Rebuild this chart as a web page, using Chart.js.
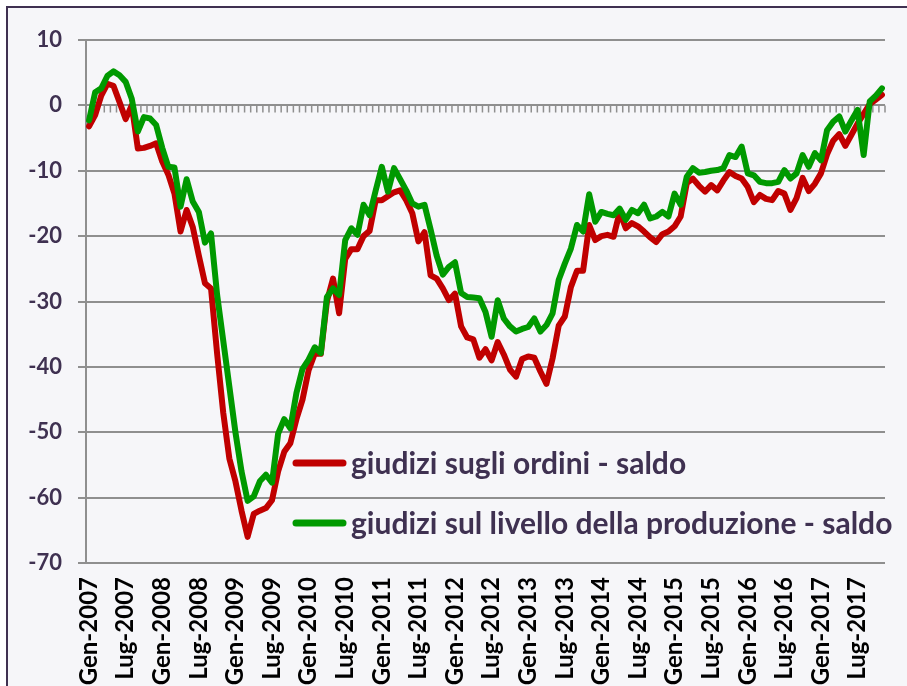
<!DOCTYPE html>
<html>
<head>
<meta charset="utf-8">
<script src="https://cdn.jsdelivr.net/npm/chart.js@4.4.0/dist/chart.umd.min.js"></script>
<style>
html, body { margin: 0; padding: 0; background: #ffffff; overflow: hidden; }
#frame { position: absolute; left: 6px; top: 6px; width: 1000px; height: 1000px; background: #f6f6f9;
         border-left: 2px solid #3f3151; border-top: 2px solid #3f3151; }
#wrap { position: absolute; left: 0; top: 0; width: 907px; height: 686px; }
</style>
</head>
<body>
<div id="frame"></div>
<div id="wrap"><canvas id="graph" width="907" height="686"></canvas></div>
<script>
// mesi e anni per le etichette (Gen-2007 ... Nov-2017)
var mesi = ["Gen", "Feb", "Mar", "Apr", "Mag", "Giu", "Lug", "Ago", "Set", "Ott", "Nov", "Dic"];
var anni = [2007, 2008, 2009, 2010, 2011, 2012, 2013, 2014, 2015, 2016, 2017];
var nPunti = 131;

// giudizi sugli ordini - saldo
var ordini = [
  -3.2, -1.5, 1.5, 3.3, 3.0, 0.5, -2.1, 0.0, -6.6, -6.5,
  -6.2, -5.8, -8.6, -10.6, -13.5, -19.3, -16.0, -18.6, -23.0, -27.2,
  -28.0, -38.0, -47.0, -54.0, -57.5, -62.0, -66.0, -62.5, -62.0, -61.6,
  -60.4, -56.0, -53.0, -51.7, -48.0, -45.0, -40.5, -38.0, -38.0, -30.0,
  -26.5, -31.8, -23.5, -22.0, -22.0, -20.0, -19.2, -14.5, -14.5, -13.9,
  -13.3, -13.0, -14.5, -16.5, -20.8, -19.4, -26.0, -26.5, -28.0, -29.8,
  -28.8, -33.8, -35.5, -35.8, -38.6, -37.3, -39.0, -36.2, -38.1, -40.4,
  -41.5, -38.8, -38.4, -38.6, -40.7, -42.6, -38.7, -33.7, -32.3, -27.8,
  -25.3, -25.3, -18.3, -20.6, -20.0, -19.8, -20.1, -16.3, -18.8, -18.0,
  -18.5, -19.3, -20.2, -20.9, -19.7, -19.3, -18.5, -17.0, -11.9, -11.2,
  -12.3, -13.2, -12.2, -13.0, -11.5, -10.2, -10.8, -11.2, -12.5, -14.8,
  -13.7, -14.3, -14.5, -13.1, -13.5, -16.0, -14.2, -11.1, -13.1, -12.0,
  -10.4, -7.5, -5.4, -4.4, -6.2, -4.5, -2.8, -1.3, 0.2, 0.9,
  1.6
];

// giudizi sul livello della produzione - saldo
var produzione = [
  -2.3, 2.0, 2.6, 4.5, 5.2, 4.6, 3.6, 1.0, -4.0, -1.8,
  -2.0, -3.0, -6.5, -9.4, -9.5, -15.5, -11.3, -14.7, -16.3, -21.0,
  -19.6, -29.0, -36.0, -43.0, -50.0, -56.0, -60.5, -59.8, -57.5, -56.5,
  -57.7, -50.2, -48.0, -49.4, -44.0, -40.3, -38.9, -37.0, -37.9, -29.3,
  -28.0, -29.0, -20.6, -18.8, -19.8, -15.2, -16.8, -13.0, -9.4, -13.2,
  -9.6, -11.3, -13.0, -15.0, -15.5, -15.2, -19.0, -23.0, -25.9, -24.7,
  -24.0, -28.7, -29.3, -29.4, -29.5, -31.6, -35.4, -29.8, -32.6, -33.8,
  -34.6, -34.2, -33.9, -32.6, -34.6, -33.6, -31.8, -26.7, -24.2, -21.9,
  -18.3, -19.3, -13.6, -17.8, -16.3, -16.6, -16.8, -15.8, -17.5, -16.0,
  -16.5, -15.2, -17.3, -17.0, -16.3, -17.0, -13.5, -15.2, -10.9, -9.6,
  -10.3, -10.2, -10.0, -9.9, -9.6, -7.6, -7.9, -6.3, -10.4, -10.7,
  -11.7, -11.9, -11.9, -11.7, -9.9, -11.2, -10.4, -7.6, -9.4, -7.3,
  -8.4, -3.8, -2.5, -1.7, -4.0, -2.3, -0.7, -7.6, 0.6, 1.5,
  2.6
];

var yMin = -70, yMax = 10, yStep = 10;

var labels = [];
for (var a = 0; a < anni.length; a++) {
  for (var m = 0; m < mesi.length; m++) {
    if (labels.length < nPunti) labels.push(mesi[m] + "-" + anni[a]);
  }
}

// trattini mensili sull'asse dello zero
var zeroTicks = {
  id: 'zeroTicks',
  beforeDatasetsDraw: function(chart) {
    var ctx = chart.ctx, xs = chart.scales.x, ys = chart.scales.y;
    var y0 = ys.getPixelForValue(0);
    var step = xs.getPixelForValue(1) - xs.getPixelForValue(0);
    var start = xs.getPixelForValue(0) - step / 2;
    ctx.save();
    ctx.strokeStyle = '#8f8f8f';
    ctx.lineWidth = 1.5;
    ctx.beginPath();
    for (var i = 0; i <= labels.length; i++) {
      var px = start + i * step;
      ctx.moveTo(px, y0);
      ctx.lineTo(px, y0 + 7);
    }
    ctx.stroke();
    ctx.restore();
  }
};

// legenda dentro il grafico
var legendaInterna = {
  id: 'legendaInterna',
  afterDraw: function(chart) {
    var ctx = chart.ctx, area = chart.chartArea;
    chart.data.datasets.forEach(function(ds, k) {
      var yy = area.top + 423 + k * 60;
      ctx.save();
      ctx.strokeStyle = ds.borderColor;
      ctx.lineWidth = 7;
      ctx.lineCap = 'round';
      ctx.beginPath();
      ctx.moveTo(area.left + 210, yy);
      ctx.lineTo(area.left + 257, yy);
      ctx.stroke();
      ctx.fillStyle = '#3f3151';
      ctx.font = 'bold 30px Lato';
      ctx.textBaseline = 'middle';
      ctx.textAlign = 'left';
      ctx.fillText(ds.label, area.left + 265, yy + 1);
      ctx.restore();
    });
  }
};

Chart.defaults.font.family = "Lato";

var ctx = document.getElementById("graph");

var chartdata = {
  labels: labels,
  datasets: [
    {
      label: "giudizi sugli ordini - saldo",
      data: ordini,
      borderColor: "#c00000",
      backgroundColor: "#c00000",
      borderWidth: 6,
      pointRadius: 0,
      tension: 0,
      fill: false,
      borderJoinStyle: 'round',
      borderCapStyle: 'round',
      order: 2
    },
    {
      label: "giudizi sul livello della produzione - saldo",
      data: produzione,
      borderColor: "#009900",
      backgroundColor: "#009900",
      borderWidth: 6,
      pointRadius: 0,
      tension: 0,
      fill: false,
      borderJoinStyle: 'round',
      borderCapStyle: 'round',
      order: 1
    }
  ]
};

var LineGraph = new Chart(ctx, {
  type: 'line',
  data: chartdata,
  plugins: [zeroTicks, legendaInterna],
  options: {
    responsive: false,
    animation: false,
    layout: { padding: { top: 40, right: 22, left: 0, bottom: 0 } },
    plugins: {
      legend: { display: false },
      tooltip: { enabled: false }
    },
    scales: {
      x: {
        offset: true,
        grid: { display: false, drawTicks: false },
        border: { display: false },
        ticks: {
          autoSkip: false,
          minRotation: 90,
          maxRotation: 90,
          color: '#000000',
          padding: 14,
          font: { size: 24, weight: 'bold' },
          callback: function(val, index) {
            return index % 6 === 0 ? labels[index] : '';
          }
        },
        afterFit: function(s) {
          s.height = 123;
          s.paddingLeft = 0;
          s.paddingRight = 0;
        }
      },
      y: {
        min: yMin,
        max: yMax,
        ticks: {
          stepSize: yStep,
          color: '#3f3151',
          padding: 16,
          font: { size: 22, weight: 'bold' }
        },
        grid: { color: '#8f8f8f', lineWidth: 2, tickLength: 8 },
        border: { display: true, color: '#8f8f8f', width: 2 },
        afterFit: function(s) { s.width = 86; }
      }
    }
  }
});
</script>
</body>
</html>
